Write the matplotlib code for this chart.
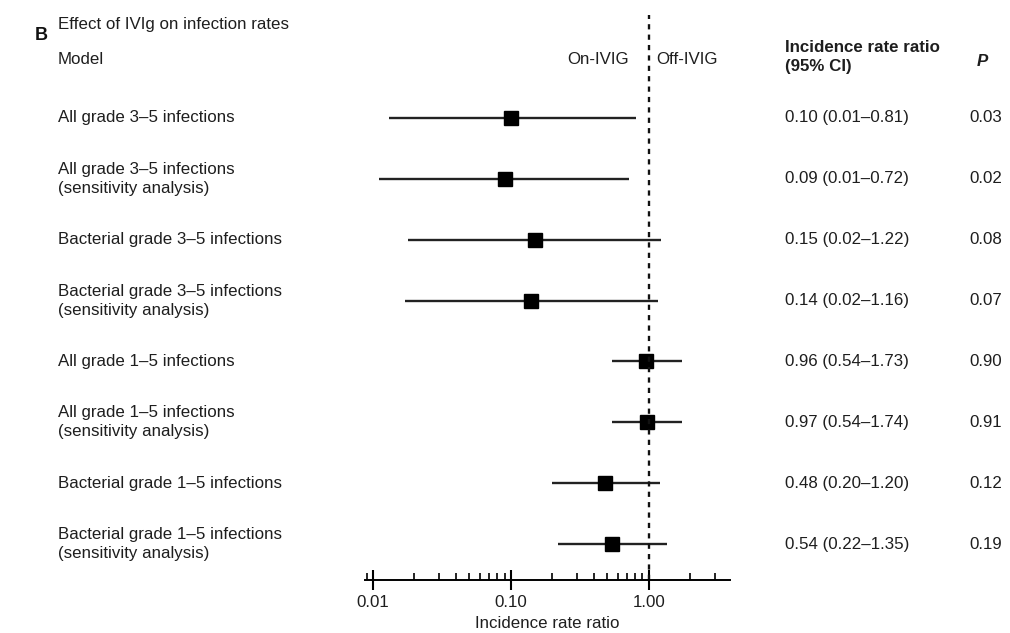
import matplotlib.pyplot as plt
import matplotlib.transforms as mtransforms
from matplotlib.ticker import FixedLocator, NullFormatter
import numpy as np

plt.rcParams['font.family'] = ['Liberation Sans', 'DejaVu Sans']

models = [
    "All grade 3\u20135 infections",
    "All grade 3\u20135 infections\n(sensitivity analysis)",
    "Bacterial grade 3\u20135 infections",
    "Bacterial grade 3\u20135 infections\n(sensitivity analysis)",
    "All grade 1\u20135 infections",
    "All grade 1\u20135 infections\n(sensitivity analysis)",
    "Bacterial grade 1\u20135 infections",
    "Bacterial grade 1\u20135 infections\n(sensitivity analysis)",
]
irr = [0.10, 0.09, 0.15, 0.14, 0.96, 0.97, 0.48, 0.54]
ci_low = [0.013, 0.011, 0.018, 0.017, 0.54, 0.54, 0.20, 0.22]
ci_high = [0.81, 0.72, 1.22, 1.16, 1.73, 1.74, 1.20, 1.35]
ci_text = ["0.10 (0.01\u20130.81)", "0.09 (0.01\u20130.72)", "0.15 (0.02\u20131.22)",
           "0.14 (0.02\u20131.16)", "0.96 (0.54\u20131.73)", "0.97 (0.54\u20131.74)",
           "0.48 (0.20\u20131.20)", "0.54 (0.22\u20131.35)"]
p_text = ["0.03", "0.02", "0.08", "0.07", "0.90", "0.91", "0.12", "0.19"]
tick_vals = [0.01, 0.1, 1.0]
tick_labels = ["0.01", "0.10", "1.00"]

fs = 12.2
tc = '#1e1e1e'

fig = plt.figure(figsize=(10.10, 6.33), dpi=100)
ax = fig.add_axes([0.361, 0.0837, 0.362, 0.8926])

ypos = np.arange(len(models))
for y, lo, hi, est in zip(ypos, ci_low, ci_high, irr):
    ax.plot([lo, hi], [y, y], color='#222222', lw=1.7, solid_capstyle='butt')
    ax.plot(est, y, marker='s', markersize=9.5, color='black', linestyle='none')

ax.axvline(1.0, color='#111111', lw=1.7, linestyle=(0, (2.2, 2.2)))

ax.set_xscale('log')
ax.set_xlim(0.0087, 3.9)
ax.set_ylim(7.59, -1.69)

for s in ['top', 'right', 'left']:
    ax.spines[s].set_visible(False)
ax.spines['bottom'].set_linewidth(1.4)
ax.set_yticks([])
ax.xaxis.set_major_locator(FixedLocator(tick_vals))
ax.set_xticklabels(tick_labels, fontsize=fs, color=tc)
minor = [v * m for v in [0.01, 0.1, 1.0] for m in range(2, 10)]
minor = [0.009] + [v for v in minor if v < 3.9]
ax.xaxis.set_minor_locator(FixedLocator(minor))
ax.xaxis.set_minor_formatter(NullFormatter())
ax.tick_params(axis='x', which='major', direction='inout', length=14, width=1.5, pad=4)
ax.tick_params(axis='x', which='minor', direction='in', length=5, width=1.2)
ax.set_xlabel("Incidence rate ratio", fontsize=fs, color=tc, labelpad=4)

trans = mtransforms.blended_transform_factory(fig.transFigure, ax.transData)
for y, m, c, p in zip(ypos, models, ci_text, p_text):
    ax.text(0.0574, y, m, transform=trans, ha='left', va='center', fontsize=fs,
            color=tc, linespacing=1.33)
    ax.text(0.777, y, c, transform=trans, ha='left', va='center', fontsize=fs, color=tc)
    ax.text(0.960, y, p, transform=trans, ha='left', va='center', fontsize=fs, color=tc)

fig.text(0.034, 1 - 36 / 633, "B", fontsize=13, fontweight='bold', va='center', color='#111111')
fig.text(0.0574, 1 - 25 / 633, "Effect of IVIg on infection rates", fontsize=fs,
         va='center', color=tc)
fig.text(0.0574, 1 - 60 / 633, "Model", fontsize=fs, va='center', color=tc)
fig.text(0.623, 1 - 60 / 633, "On-IVIG", fontsize=fs, va='center', ha='right', color=tc)
fig.text(0.650, 1 - 60 / 633, "Off-IVIG", fontsize=fs, va='center', ha='left', color=tc)
fig.text(0.777, 1 - 57 / 633, "Incidence rate ratio\n(95% CI)", fontsize=fs,
         fontweight='bold', va='center', ha='left', color=tc, linespacing=1.3)
fig.text(0.973, 1 - 62 / 633, "P", fontsize=fs, fontweight='bold', fontstyle='italic',
         va='center', ha='center', color=tc)

fig.savefig("out.png", dpi=100)
